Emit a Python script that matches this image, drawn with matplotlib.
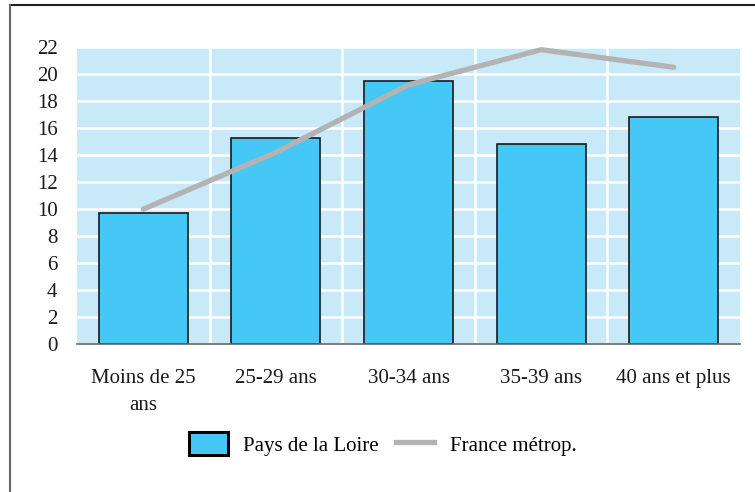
import matplotlib
matplotlib.use("Agg")
import matplotlib.pyplot as plt
from matplotlib.lines import Line2D
from matplotlib.patches import Patch
import numpy as np

categories = ["Moins de 25\nans", "25-29 ans", "30-34 ans", "35-39 ans", "40 ans et plus"]
pays_de_la_loire = [9.7, 15.3, 19.5, 14.8, 16.8]
france_metrop = [10.0, 14.2, 19.2, 21.8, 20.5]
yticks = list(range(0, 23, 2))

plt.rcParams['font.family'] = ['Liberation Serif', 'DejaVu Serif']

fig = plt.figure(figsize=(7.55, 4.92), dpi=100)
ax = fig.add_axes([77/755, 1-344.3/492, (740-77)/755, (344.3-47)/492])
ax.set_facecolor('#c8e9f8')

x = np.arange(len(categories))
ax.bar(x, pays_de_la_loire, width=0.67, color='#45c8f5', edgecolor='#1a1a1a',
       linewidth=1.2, zorder=3)
ax.plot(x, france_metrop, color='#b3b3b3', linewidth=3.8, solid_capstyle='round',
        zorder=4)

ax.set_xlim(-0.5, len(categories) - 0.5)
ax.set_ylim(0, 22)
ax.set_yticks(yticks)
ax.set_yticklabels([str(t) for t in yticks])
ax.set_xticks(x)
ax.set_xticklabels(categories, linespacing=1.55)
ax.set_xticks(np.arange(0.5, len(categories) - 1, 1.0), minor=True)
ax.tick_params(axis='both', which='both', length=0, labelsize=15, colors='#1a1a1a')
ax.tick_params(axis='y', pad=14)
ax.tick_params(axis='x', pad=18)
ax.grid(axis='y', which='major', color='white', linewidth=1.8, zorder=1)
ax.grid(axis='x', which='minor', color='white', linewidth=1.8, zorder=1)
ax.set_axisbelow(True)
for s in ['top', 'right', 'left']:
    ax.spines[s].set_visible(False)
ax.spines['bottom'].set_color('#666666')
ax.spines['bottom'].set_linewidth(1.2)
ax.spines['bottom'].set_zorder(5)

handles = [Patch(facecolor='#45c8f5', edgecolor='black', linewidth=2.2),
           Line2D([0], [0], color='#b3b3b3', linewidth=3.8)]
fig.legend(handles, ["Pays de la Loire", "France métrop."], loc='center',
           bbox_to_anchor=(383/755, 1-444/492), ncol=2, frameon=False,
           fontsize=15, handlelength=1.85, handleheight=1.3, columnspacing=0.8,
           handletextpad=0.75)

# outer frame
fig.add_artist(Line2D([10/755, 1], [1-5/492, 1-5/492], color='#222222', linewidth=1.5,
                      transform=fig.transFigure))
fig.add_artist(Line2D([10/755, 10/755], [0, 1-5/492], color='#666666', linewidth=1.5,
                      transform=fig.transFigure))

fig.savefig('out.png', dpi=100)
